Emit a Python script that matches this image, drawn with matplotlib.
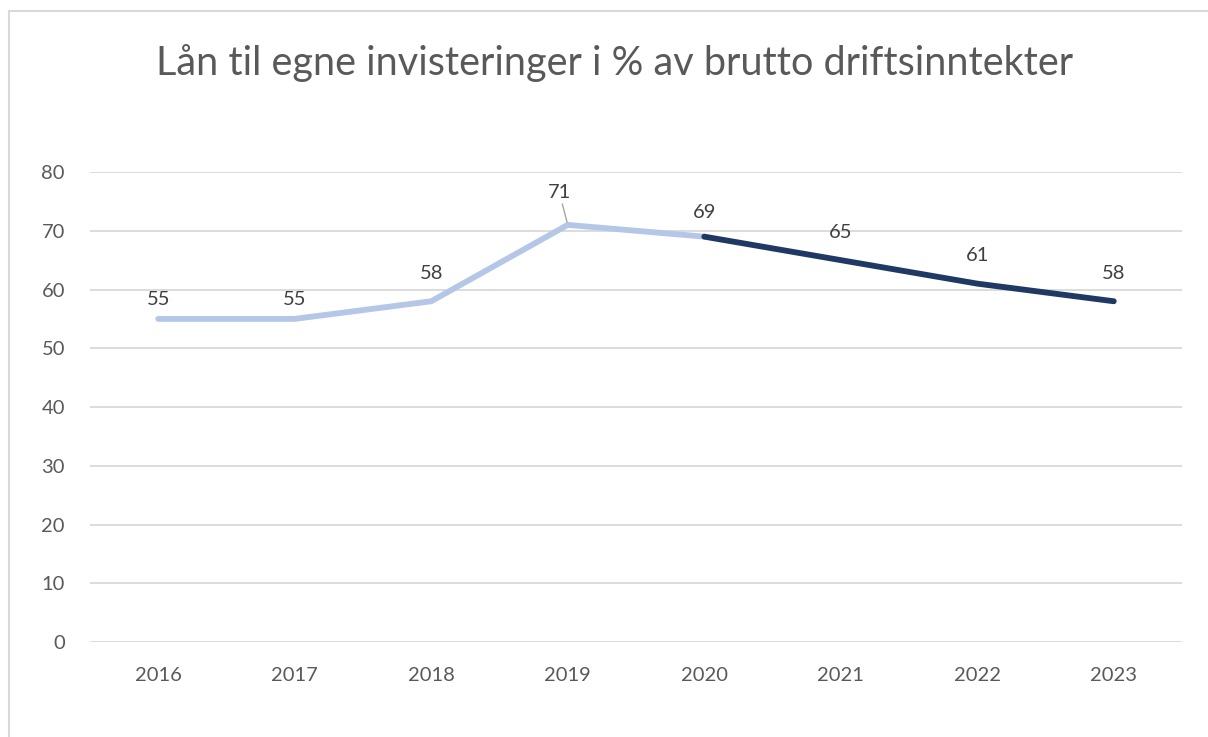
import matplotlib.pyplot as plt
from matplotlib.patches import Rectangle

plt.rcParams['font.family'] = ['Lato', 'DejaVu Sans']

# Data
years = ['2016', '2017', '2018', '2019', '2020', '2021', '2022', '2023']
values = [55, 55, 58, 71, 69, 65, 61, 58]
split_at = 4  # colour changes from 2020

title = 'Lån til egne invisteringer i % av brutto driftsinntekter'
light_blue = '#B4C7E7'
dark_blue = '#203864'
grid_color = '#D9D9D9'
text_color = '#595959'

# vertical offset (points) of each data label above its point
label_offsets = [8, 8, 14, 17, 11, 14, 14, 14]


def make_chart():
    fig = plt.figure(figsize=(12.08, 7.37), dpi=100)
    ax = fig.add_axes([0.0745, 0.1289, 0.904, 0.6377])

    x = list(range(len(years)))
    ax.plot(x[:split_at + 1], values[:split_at + 1], color=light_blue, lw=4.2,
            solid_capstyle='round', solid_joinstyle='round', zorder=3)
    ax.plot(x[split_at:], values[split_at:], color=dark_blue, lw=4.2,
            solid_capstyle='round', solid_joinstyle='round', zorder=3)

    # data labels
    for i, v in enumerate(values):
        if i == 3:
            ax.annotate(str(v), xy=(i, v), xytext=(-6, label_offsets[i]), textcoords='offset points',
                        ha='center', va='bottom', fontsize=14.5, color='#404040',
                        arrowprops=dict(arrowstyle='-', color='#A6A6A6', lw=1,
                                        shrinkA=0, shrinkB=2))
        else:
            ax.annotate(str(v), xy=(i, v), xytext=(0, label_offsets[i]), textcoords='offset points',
                        ha='center', va='bottom', fontsize=14.5, color='#404040')

    ax.set_xlim(-0.5, len(years) - 0.5)
    ax.set_ylim(0, 80)
    ax.set_yticks(range(0, 81, 10))
    ax.set_xticks(x)
    ax.set_xticklabels(years)
    ax.tick_params(axis='both', length=0, labelsize=14.5, labelcolor=text_color)
    ax.tick_params(axis='y', pad=18)
    ax.tick_params(axis='x', pad=18)
    ax.grid(axis='y', color=grid_color, lw=1.3)
    ax.set_axisbelow(True)
    for s in ax.spines.values():
        s.set_visible(False)

    fig.text(0.509, 0.914, title, ha='center', va='center', fontsize=28.5, color=text_color)

    # chart area border (left and top visible)
    fig.patches.append(Rectangle((9 / 1208, -0.1), 2, 1.1 - 11 / 737, transform=fig.transFigure,
                                 fill=False, edgecolor=grid_color, lw=1.5))

    fig.savefig('out.png', dpi=100)


if __name__ == '__main__':
    make_chart()
